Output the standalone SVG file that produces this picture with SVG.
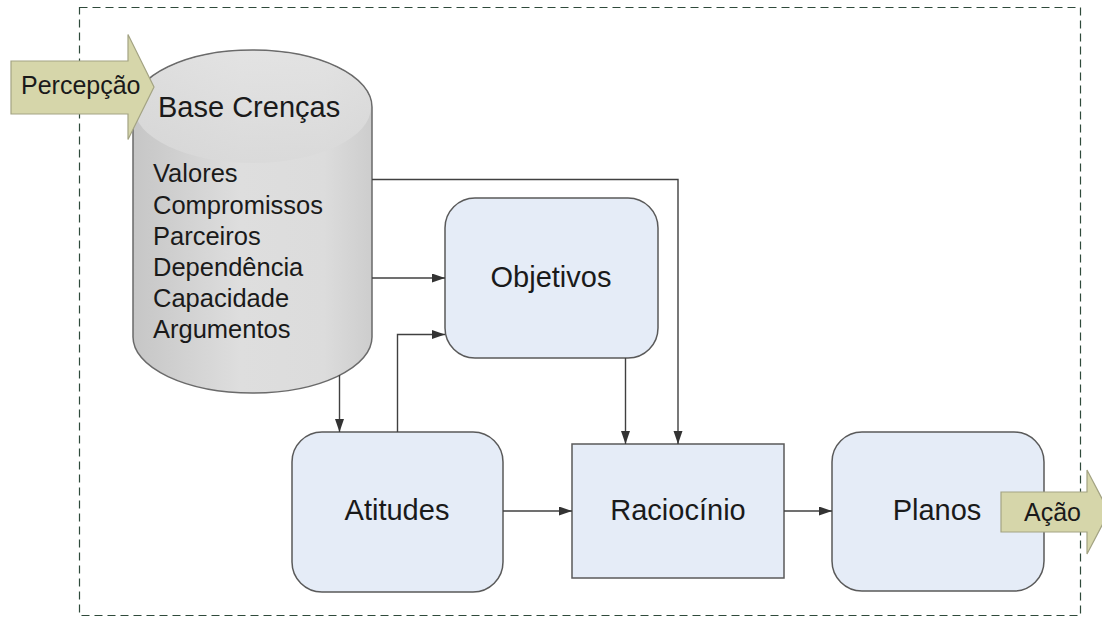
<svg xmlns="http://www.w3.org/2000/svg" width="1102" height="617" viewBox="0 0 1102 617">
  <defs>
    <style>
      .frame { fill: none; stroke: #2f4a3b; stroke-width: 1.2; stroke-dasharray: 8 5; }
      .box { fill: #e5ecf7; stroke: #5a5a5a; stroke-width: 1.5; }
      .io { fill: #d6d6aa; stroke: #a3a383; stroke-width: 1.2; }
      .cyl { stroke: #6a6a6a; stroke-width: 1.5; }
      .conn { fill: none; stroke: #404040; stroke-width: 1.4; }
      .label { font-family: "Liberation Sans", Arial, sans-serif; fill: #1a1a1a; }
      .big { font-size: 29px; text-anchor: middle; }
      .item { font-size: 25.5px; }
      .io-text { font-size: 25px; }
    </style>
    <marker id="arrow" markerUnits="userSpaceOnUse" markerWidth="14" markerHeight="10" refX="13" refY="4.5" orient="auto">
      <path d="M0,0 L13,4.5 L0,9 z" fill="#333333"/>
    </marker>
    <linearGradient id="cylBody" x1="0" y1="0" x2="1" y2="0">
      <stop offset="0" stop-color="#c6c6c6"/>
      <stop offset="0.45" stop-color="#dedede"/>
      <stop offset="0.8" stop-color="#dcdcdc"/>
      <stop offset="1" stop-color="#cdcdcd"/>
    </linearGradient>
    <linearGradient id="cylTop" x1="0" y1="0" x2="0" y2="1">
      <stop offset="0" stop-color="#e4e4e4"/>
      <stop offset="1" stop-color="#d9d9d9"/>
    </linearGradient>
  </defs>

  <rect width="1102" height="617" fill="#ffffff"/>

  <!-- system boundary -->
  <rect class="frame" x="79.5" y="7.5" width="1001" height="608"/>

  <!-- belief base cylinder -->
  <g id="base-crencas">
    <path class="cyl" fill="url(#cylBody)" d="M133,107 A119.5,57 0 0 1 372,107 L372,337 A119.5,56 0 0 1 133,337 Z"/>
    <ellipse cx="252.5" cy="107" rx="118.5" ry="56" fill="url(#cylTop)" opacity="0.8"/>
    <text class="label" x="158" y="117" font-size="29px">Base Crenças</text>
    <text class="label item" x="153" y="182.3">Valores</text>
    <text class="label item" x="153" y="213.5">Compromissos</text>
    <text class="label item" x="153" y="244.7">Parceiros</text>
    <text class="label item" x="153" y="275.9">Dependência</text>
    <text class="label item" x="153" y="307.1">Capacidade</text>
    <text class="label item" x="153" y="338.3">Argumentos</text>
  </g>

  <g id="objetivos">
    <rect class="box" x="445" y="198" width="213" height="160" rx="30" ry="30"/>
    <text class="label big" x="551" y="287">Objetivos</text>
  </g>

  <g id="atitudes">
    <rect class="box" x="292" y="432" width="211" height="160" rx="30" ry="30"/>
    <text class="label big" x="397" y="520">Atitudes</text>
  </g>

  <g id="raciocinio">
    <rect class="box" x="572" y="444" width="212" height="134"/>
    <text class="label big" x="678" y="520">Raciocínio</text>
  </g>

  <g id="planos">
    <rect class="box" x="832" y="432" width="212" height="159" rx="30" ry="30"/>
    <text class="label big" x="937" y="520">Planos</text>
  </g>

  <!-- connectors -->
  <g id="connectors">
    <path class="conn" d="M372,179.5 H678 V444" marker-end="url(#arrow)"/>
    <path class="conn" d="M372,278 H445" marker-end="url(#arrow)"/>
    <path class="conn" d="M397.5,432 V334.5 H445" marker-end="url(#arrow)"/>
    <path class="conn" d="M339.5,375 V432" marker-end="url(#arrow)"/>
    <path class="conn" d="M625.5,358 V444" marker-end="url(#arrow)"/>
    <path class="conn" d="M503,511 H572" marker-end="url(#arrow)"/>
    <path class="conn" d="M784,511 H832" marker-end="url(#arrow)"/>
  </g>

  <!-- input arrow -->
  <g id="percepcao">
    <polygon class="io" points="11,61 128,61 128,34.5 154,87 128,139.5 128,114 11,114"/>
    <text class="label io-text" x="21" y="94">Percepção</text>
  </g>

  <!-- output arrow -->
  <g id="acao">
    <polygon class="io" points="1001,492 1087,492 1087,470 1109,512 1087,554 1087,532 1001,532"/>
    <text class="label io-text" x="1024" y="521">Ação</text>
  </g>
</svg>
